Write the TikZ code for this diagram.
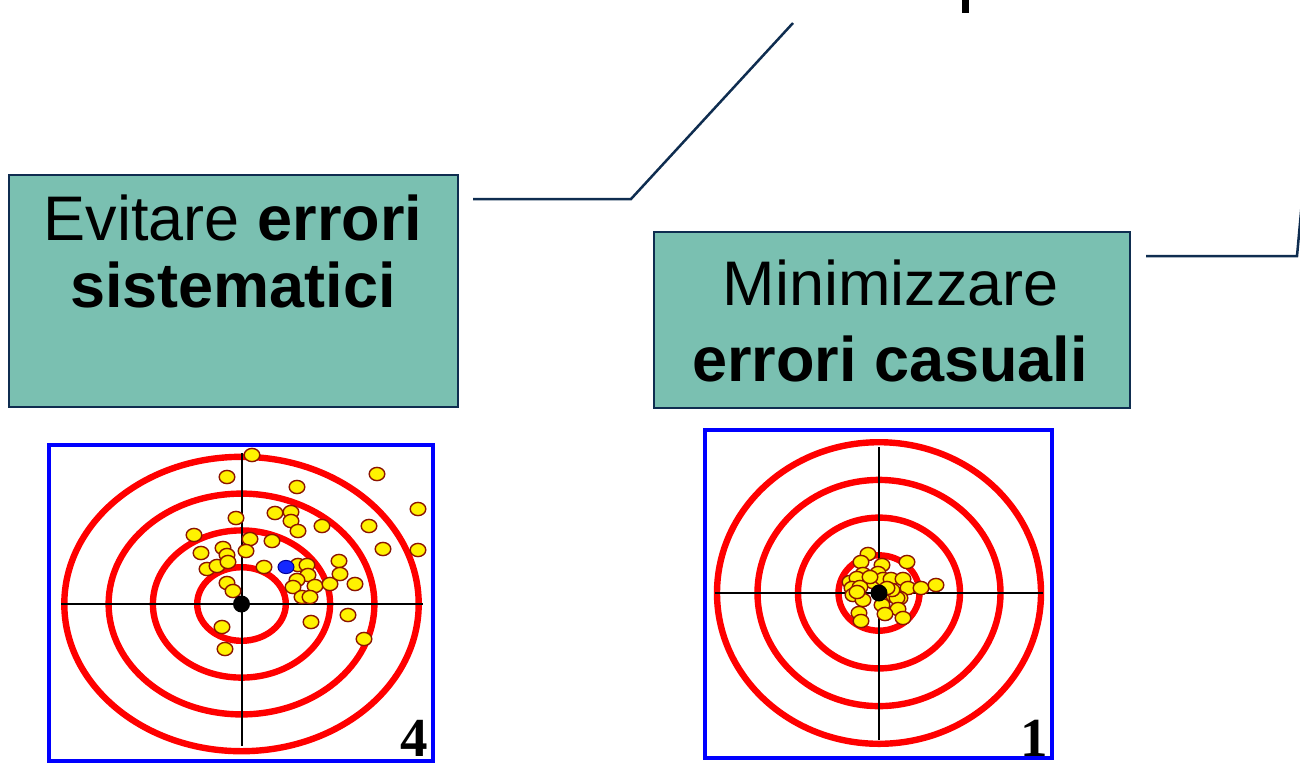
\documentclass[tikz,border=0pt]{standalone}
\usepackage{fontspec}
\setmainfont{Liberation Sans}
\newfontfamily\numfont{Liberation Serif}
\definecolor{boxteal}{RGB}{122,192,177}
\definecolor{navy}{RGB}{15,45,80}
\definecolor{shotedge}{RGB}{140,20,0}
\definecolor{hitblue}{RGB}{20,40,255}
\tikzset{
  infobox/.style={draw=navy, line width=1pt, fill=boxteal, rectangle, inner sep=0pt},
  lbl/.style={font=\fontsize{31.5}{33}\selectfont, anchor=base, inner sep=0pt},
  conn/.style={navy, line width=1.25pt},
  tgtframe/.style={draw=blue, line width=2pt},
  ring/.style={draw=red, line width=3.2pt},
  hair/.style={black, line width=1pt},
  shot/.style={fill=yellow, draw=shotedge, line width=0.7pt},
  num/.style={font=\numfont\bfseries\fontsize{27.5}{30}\selectfont, anchor=base, inner sep=0pt}
}
\begin{document}
\begin{tikzpicture}[x=0.5pt, y=-0.5pt]
    \useasboundingbox (0,0) rectangle (1300,762);
    \clip (0,0) rectangle (1300,762);
    \fill (962,-5) rectangle (969,13);
    % boxes
    \node[infobox, minimum width=224.5pt, minimum height=116pt] (evit) at (233.5,291) {};
    \node[infobox, minimum width=238pt, minimum height=88pt] (mini) at (892,320) {};
    \node[lbl] (evit1) at (233,240) {Evitare \textbf{errori}};
    \node[lbl] (evit2) at (233,307) {\textbf{sistematici}};
    \node[lbl] (mini1) at (891,305) {Minimizzare};
    \node[lbl] (mini2) at (890,381) {\textbf{errori casuali}};
    % connectors
    \coordinate (c1s) at (473,199);
    \coordinate (c1k) at (631,199);
    \coordinate (c1e) at (793,23);
    \coordinate (c2s) at (1146,256);
    \coordinate (c2k) at (1297,256);
    \coordinate (c2e) at (1303,190);
    \draw[conn] (c1s) -- (c1k) -- (c1e);
    \draw[conn] (c2s) -- (c2k) -- (c2e);
    % target 4
    \coordinate (tA) at (241.5,604);
    \draw[tgtframe] (49,445) rectangle (432.5,761);
    \foreach \k in {1,...,4}
        \draw[ring] (tA) ellipse [x radius=\k*22.15pt, y radius=\k*18.4pt];
    \draw[hair] (61,604) -- (423,604) (241.5,453) -- (241.5,746);
    \foreach \p in {(252,455),(227,477),(297,487),(377,474),(418,509),(275,513),
        (291,512),(291,521),(298,531),(322,526),(236,518),(194,535),(369,526),
        (383,549),(418,550),(201,553),(223,548),(250,539),(246,551),(272,541),
        (264,567),(227,555),(207,569),(217,566),(228,562),(227,583),(233,591),
        (298,565),(307,565),(308,575),(297,580),(293,587),(315,586),(330,584),
        (339,561),(340,574),(355,584),(302,597),(310,597),(348,615),(311,622),
        (364,639),(222,627),(225,649)}
        \draw[shot] \p ellipse [x radius=3.9pt, y radius=3.3pt];
    \fill (tA) circle [radius=4.25pt];
    \draw[fill=hitblue, draw=blue!60!black, line width=0.5pt] (286,567) ellipse [x radius=4pt, y radius=3.3pt];
    \node[num] (nA) at (414,756) {4};
    % target 1
    \coordinate (tB) at (879,593);
    \draw[tgtframe] (705,430) rectangle (1051.5,757.5);
    \foreach \k in {1,...,4}
        \draw[ring] (tB) ellipse [x radius=\k*20.25pt, y radius=\k*18.85pt];
    \draw[hair] (715,593) -- (1043,593) (879,447) -- (879,740);
    \foreach \p in {(868,554),(861,562),(882,565),(907,562),(863,574),(878,573),
        (850,582),(857,578),(873,582),(883,579),(891,579),(903,579),(852,588),
        (860,587),(908,588),(921,588),(936,585),(853,595),(863,600),(894,596),
        (900,598),(882,605),(897,598),(898,609),(885,614),(903,618),(859,613),
        (861,621),(857,592),(892,590),(870,577),(887,588)}
        \draw[shot] \p ellipse [x radius=3.9pt, y radius=3.3pt];
    \fill (tB) circle [radius=4.25pt];
    \node[num] (nB) at (1034,756) {1};
\end{tikzpicture}
\end{document}
